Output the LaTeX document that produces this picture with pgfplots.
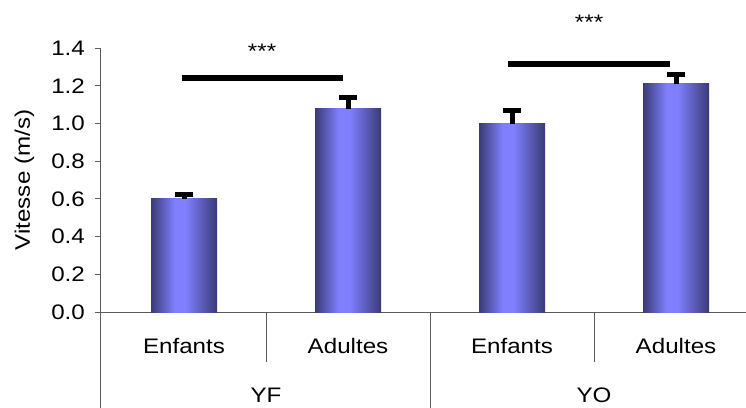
\documentclass[border=0pt]{standalone}
\usepackage{fontspec}
\setmainfont[FakeStretch=1.15]{Liberation Sans}
\usepackage{pgfplots}
\pgfplotsset{compat=1.18}

\definecolor{bardark}{RGB}{58,58,118}
\definecolor{barlight}{RGB}{128,128,255}
\definecolor{axisgray}{RGB}{90,90,90}

% dark edges, bright band slightly left of centre
\pgfdeclarehorizontalshading{barshade}{100bp}{%
  color(0bp)=(bardark); color(25bp)=(bardark);
  color(43bp)=(barlight); color(51bp)=(barlight);
  color(75bp)=(bardark); color(100bp)=(bardark)}

\pgfplotsset{
  speedbar/.style={ybar, bar shift=0pt, bar width=66pt, draw=none, shading=barshade,
    error bars/.cd, y dir=plus, y explicit,
    error bar style={line width=5pt, black},
    error mark options={rotate=90, mark size=9pt, line width=5pt, black}},
}

\begin{document}
\begin{tikzpicture}[font=\fontsize{21}{25}\selectfont]
\begin{axis}[
  x=164pt, y=188.5pt,
  xmin=-0.51, xmax=3.5, ymin=0, ymax=1.4,
  axis lines*=left,
  axis line style={axisgray, line width=1pt},
  clip=false,
  xtick={0,1,2,3},
  xticklabels={Enfants,Adultes,Enfants,Adultes},
  x tick style={draw=none},
  xticklabel style={anchor=base, yshift=-36pt},
  ytick={0,0.2,0.4,0.6,0.8,1.0,1.2,1.4},
  y tick style={axisgray, line width=1pt},
  tick align=outside, major tick length=5pt,
  /pgf/number format/assume math mode=true,
  yticklabel style={xshift=-7pt, /pgf/number format/.cd, fixed, fixed zerofill, precision=1, /tikz/.cd},
  ylabel={Vitesse (m/s)},
  every axis y label/.style={at={([xshift=-76pt]axis description cs:0,0.5)}, rotate=90, anchor=center},
]
% mean speed with standard error, one bar per group
\addplot[speedbar] coordinates {(0,0.600) +- (0,0.025)};
\addplot[speedbar] coordinates {(1,1.077) +- (0,0.061)};
\addplot[speedbar] coordinates {(2,1.000) +- (0,0.067)};
\addplot[speedbar] coordinates {(3,1.210) +- (0,0.052)};

% significance brackets
\addplot[black, line width=5.7pt, line cap=butt] coordinates {(-0.012,1.242) (0.970,1.242)};
\addplot[black, line width=5.7pt, line cap=butt] coordinates {(1.976,1.317) (2.963,1.317)};
\node[anchor=base] at (axis cs:0.476,1.345) {***};
\node[anchor=base] at (axis cs:2.470,1.498) {***};

% category separators of the two-level axis
\draw[axisgray, line width=1pt] (axis cs:-0.51,0) -- ([yshift=-110pt]axis cs:-0.51,0);
\draw[axisgray, line width=1pt] (axis cs:0.5,0) -- ([yshift=-50pt]axis cs:0.5,0);
\draw[axisgray, line width=1pt] (axis cs:1.5,0) -- ([yshift=-110pt]axis cs:1.5,0);
\draw[axisgray, line width=1pt] (axis cs:2.5,0) -- ([yshift=-50pt]axis cs:2.5,0);
\draw[axisgray, line width=1pt] (axis cs:3.5,0) -- ([yshift=-110pt]axis cs:3.5,0);

% group names
\node[anchor=base] at ([yshift=-90pt]axis cs:0.5,0) {YF};
\node[anchor=base] at ([yshift=-90pt]axis cs:2.5,0) {YO};

\coordinate (O) at (axis cs:0,0);
\end{axis}
\pgfresetboundingbox
\path[use as bounding box] ([shift={(-184pt,-95pt)}]O) rectangle ([shift={(562pt,312pt)}]O);
\end{tikzpicture}
\end{document}
